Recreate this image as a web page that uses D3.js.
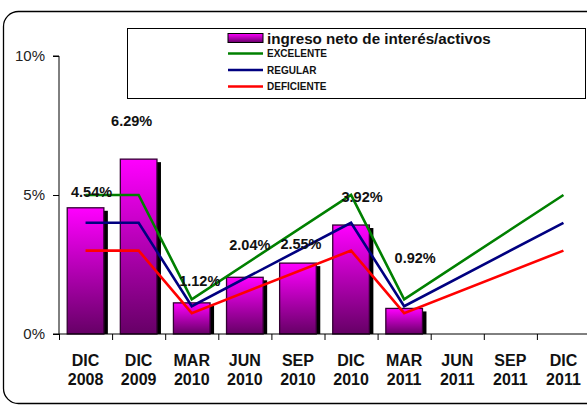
<!DOCTYPE html>
<html>
<head>
<meta charset="utf-8">
<script src="https://cdn.jsdelivr.net/npm/d3@7/dist/d3.min.js"></script>
<style>
  body { margin: 0; background: #fff; }
  text { font-family: Arial, "Liberation Sans", sans-serif; }
</style>
</head>
<body>
<script>
// data
let categories = ["DIC 2008", "DIC 2009", "MAR 2010", "JUN 2010", "SEP 2010",
                  "DIC 2010", "MAR 2011", "JUN 2011", "SEP 2011", "DIC 2011"]
let ingreso = [0.0454, 0.0629, 0.0112, 0.0204, 0.0255, 0.0392, 0.0092, null, null, null]
let excelente = [0.05, 0.05, 0.0125, null, null, 0.05, 0.0125, null, null, 0.05]
let regular = [0.04, 0.04, 0.01, null, null, 0.04, 0.01, null, null, 0.04]
let deficiente = [0.03, 0.03, 0.0075, null, null, 0.03, 0.0075, null, null, 0.03]
let yTicks = [0, 0.05, 0.10]

let series = [
    {name: "EXCELENTE", values: excelente, color: "#008000"},
    {name: "REGULAR", values: regular, color: "#000080"},
    {name: "DEFICIENTE", values: deficiente, color: "#ff0000"}
]

let width = 587, height = 406

let svg = d3.select("body")
    .append("svg")
    .attr("width", width)
    .attr("height", height)

let defs = svg.append("defs")
let grad = defs.append("linearGradient")
    .attr("id", "barGrad")
    .attr("x1", 0).attr("y1", 0).attr("x2", 0).attr("y2", 1)
grad.append("stop").attr("offset", "0%").attr("stop-color", "#ff00ff")
grad.append("stop").attr("offset", "100%").attr("stop-color", "#660066")

// outer frame
svg.append("rect")
    .attr("x", 3.5).attr("y", 11.5)
    .attr("width", 620).attr("height", 392)
    .attr("rx", 15).attr("ry", 15)
    .attr("fill", "none")
    .attr("stroke", "#000")
    .attr("stroke-width", 1.3)

let x = d3.scaleBand()
    .domain(categories)
    .range([59, 590])
    .padding(0)

let y = d3.scaleLinear()
    .domain([0, 0.10])
    .range([334, 56])

// y axis
let yAxis = svg.append("g")
    .attr("transform", "translate(59,0)")
    .call(d3.axisLeft(y).tickValues(yTicks).tickFormat(d3.format(".0%")).tickSize(6).tickPadding(8))
yAxis.selectAll("text")
    .attr("font-size", 15)
    .attr("font-family", "Arial, 'Liberation Sans', sans-serif")
    .attr("fill", "#222")
yAxis.selectAll("line, path").attr("stroke", "#000")
yAxis.select(".domain").attr("d", "M-6," + y(0.10) + "H0V" + y(0) + "H-6")

// bars with shadow
let bw = x.bandwidth() * 0.69
let bars = svg.selectAll(".bar")
    .data(categories.map((c, i) => ({c: c, v: ingreso[i]})).filter(d => d.v != null))
    .enter().append("g")
    .attr("class", "bar")

bars.append("rect")
    .attr("x", d => x(d.c) + (x.bandwidth() - bw) / 2 + 4)
    .attr("y", d => y(d.v) + 3)
    .attr("width", bw)
    .attr("height", d => y(0) - y(d.v) - 3)
    .attr("fill", "#000")

bars.append("rect")
    .attr("x", d => x(d.c) + (x.bandwidth() - bw) / 2)
    .attr("y", d => y(d.v))
    .attr("width", bw)
    .attr("height", d => y(0) - y(d.v))
    .attr("fill", "url(#barGrad)")
    .attr("stroke", "#330033")
    .attr("stroke-width", 1.3)

// x axis
let xAxis = svg.append("g").attr("transform", "translate(0," + y(0) + ")")
xAxis.append("line")
    .attr("x1", 59).attr("x2", 590)
    .attr("stroke", "#000")
xAxis.selectAll(".tick")
    .data(categories.concat(["end"]))
    .enter().append("line")
    .attr("x1", (d, i) => 59 + i * x.step() + 0.5)
    .attr("x2", (d, i) => 59 + i * x.step() + 0.5)
    .attr("y1", 0).attr("y2", 6)
    .attr("stroke", "#000")

let xl = svg.selectAll(".xlab")
    .data(categories)
    .enter().append("text")
    .attr("class", "xlab")
    .attr("text-anchor", "middle")
    .attr("font-size", 16)
    .attr("font-weight", "bold")
    .attr("fill", "#111")
xl.append("tspan")
    .attr("x", d => x(d) + x.bandwidth() / 2)
    .attr("y", 366)
    .text(d => d.split(" ")[0])
xl.append("tspan")
    .attr("x", d => x(d) + x.bandwidth() / 2)
    .attr("y", 385)
    .text(d => d.split(" ")[1])

// benchmark lines (gaps joined)
let line = d3.line()
    .x(d => x(d.c) + x.bandwidth() / 2)
    .y(d => y(d.v))

series.forEach(s => {
    let pts = categories.map((c, i) => ({c: c, v: s.values[i]})).filter(d => d.v != null)
    svg.append("path")
        .attr("d", line(pts))
        .attr("fill", "none")
        .attr("stroke", s.color)
        .attr("stroke-width", 2.6)
})

// value labels, placed by hand like the original
let labelShift = [[6, -11], [-7, -33], [8, -17], [5, -27], [3, -14], [11, -23], [11, -45]]
svg.selectAll(".vlab")
    .data(ingreso.filter(v => v != null))
    .enter().append("text")
    .attr("class", "vlab")
    .attr("x", (d, i) => x(categories[i]) + x.bandwidth() / 2 + labelShift[i][0])
    .attr("y", (d, i) => y(d) + labelShift[i][1])
    .attr("text-anchor", "middle")
    .attr("font-size", 14.5)
    .attr("font-weight", "bold")
    .attr("fill", "#111")
    .text(d => d3.format(".2%")(d))

// legend
let lg = svg.append("g")
lg.append("rect")
    .attr("x", 127.5).attr("y", 28.5)
    .attr("width", 458).attr("height", 70)
    .attr("fill", "#fff")
    .attr("stroke", "#000")
lg.append("rect")
    .attr("x", 228).attr("y", 33.5)
    .attr("width", 35).attr("height", 9)
    .attr("fill", "url(#barGrad)")
    .attr("stroke", "#000")
lg.append("text")
    .attr("x", 267).attr("y", 44)
    .attr("font-size", 15.2)
    .attr("font-weight", "bold")
    .attr("fill", "#111")
    .text("ingreso neto de interés/activos")

series.forEach((s, i) => {
    let ly = 53.5 + i * 16.5
    lg.append("line")
        .attr("x1", 228).attr("x2", 263)
        .attr("y1", ly).attr("y2", ly)
        .attr("stroke", s.color)
        .attr("stroke-width", 2.6)
    lg.append("text")
        .attr("x", 267).attr("y", ly + 3.7)
        .attr("font-size", 10)
        .attr("font-weight", "bold")
        .attr("fill", "#111")
        .text(s.name)
})
</script>
</body>
</html>
